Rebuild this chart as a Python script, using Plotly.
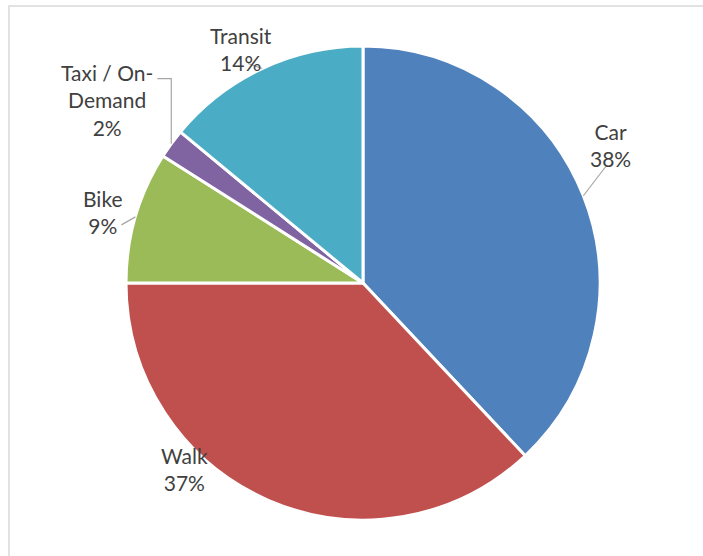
import math
import plotly.graph_objects as go

categories = ["Car", "Walk", "Bike", "Taxi / On-Demand", "Transit"]
display_labels = ["Car", "Walk", "Bike", "Taxi / On-<br>Demand", "Transit"]
shares = [38, 37, 9, 2, 14]
colors = ["#4F81BD", "#C0504D", "#9BBB59", "#8064A2", "#4BACC6"]

# label placement (radius factor, angle offset in degrees from slice mid-angle)
label_polar = [(1.194, -7.6), (1.089, 20.5), (1.137, -0.9), (1.328, -0.4), (1.114, -2.3)]
# leader line pixel offsets from the slice's outer edge point
leader_offsets = [[(23, -30)], [], [(-14, 8)], [(0, -65), (-14, -65)], [(-14, -5)]]

W, H = 703, 556
cx, cy, r = 363, 283, 237
FONT = dict(family="Lato, Carlito, sans-serif", size=21, color="#404040")

fig = go.Figure(go.Pie(
    labels=categories,
    values=shares,
    textinfo="none",
    sort=False,
    direction="clockwise",
    rotation=0,
    marker=dict(colors=colors, line=dict(color="white", width=3)),
    showlegend=False,
    hoverinfo="label+percent",
    domain=dict(x=[(cx - r) / W, (cx + r) / W], y=[(H - cy - r) / H, (H - cy + r) / H]),
))

def px2paper(x, y):
    return x / W, 1 - y / H

total = sum(shares)
annotations = []
shapes = [dict(type="rect", xref="paper", yref="paper",
               x0=9 / W, x1=1.02, y0=-0.02, y1=1 - 6 / H,
               line=dict(color="#D9D9D9", width=1.5), layer="below")]
cum = 0
for lab, v, (rf, off), leads in zip(display_labels, shares, label_polar, leader_offsets):
    mid = (cum + v / 2) / total * 360
    cum += v
    pct = round(v / total * 100)
    a = math.radians(mid + off)
    lx = cx + rf * r * math.sin(a)
    ly = cy - rf * r * math.cos(a)
    px, py = px2paper(lx, ly)
    annotations.append(dict(x=px, y=py, xref="paper", yref="paper",
                            text=f"{lab}<br>{pct}%", showarrow=False,
                            xanchor="center", yanchor="middle", align="center", font=FONT))
    if leads:
        am = math.radians(mid)
        ex = cx + r * math.sin(am)
        ey = cy - r * math.cos(am)
        pts = [(ex, ey)] + [(ex + dx, ey + dy) for dx, dy in leads]
        path = "M " + " L ".join(f"{x / W},{1 - y / H}" for x, y in pts)
        shapes.append(dict(type="path", xref="paper", yref="paper", path=path,
                           line=dict(color="#A6A6A6", width=1.2)))

fig.update_layout(
    width=W, height=H,
    margin=dict(l=0, r=0, t=0, b=0),
    paper_bgcolor="white",
    shapes=shapes,
    annotations=annotations,
)

fig.write_html("out.html", config={"displayModeBar": False},
               post_script="document.body.style.margin='0';")
